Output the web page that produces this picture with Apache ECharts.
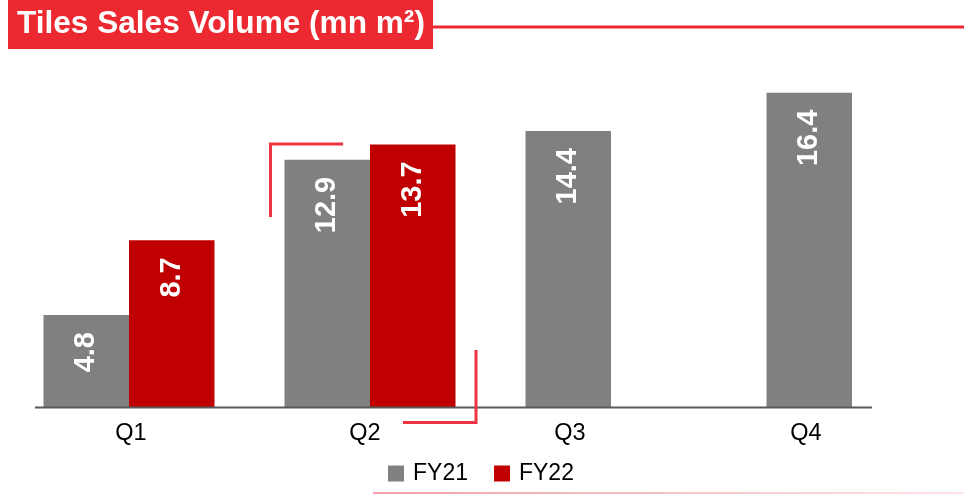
<!DOCTYPE html>
<html>
<head>
<meta charset="utf-8">
<script src="https://cdn.jsdelivr.net/npm/echarts@6/dist/echarts.min.js"></script>
<style>
  html, body { margin: 0; padding: 0; background: #ffffff; }
  #chart { width: 964px; height: 495px; }
</style>
</head>
<body>
<div id="chart"></div>
<script>
// Quarterly tiles sales volume, million square metres
const quarters = ['Q1', 'Q2', 'Q3', 'Q4'];
const fy21 = [4.8, 12.9, 14.4, 16.4];
const fy22 = [8.7, 13.7, null, null];
const seriesNames = ['FY21', 'FY22'];
const chartTitle = 'Tiles Sales Volume (mn m\u00B2)';

const FONT = '"Liberation Sans", Arial, sans-serif';
const RED = '#EC2830';
const GREY_BAR = '#808080';
const RED_BAR = '#C00000';

// horizontal nudge for each quarter label (px, positive = right)
const labelShift = [2, -5, -41, -46];
const rich = {};
labelShift.forEach((s, i) => {
  rich['q' + i] = {
    fontSize: 23.5,
    fontFamily: FONT,
    color: '#000000',
    padding: s >= 0 ? [0, 0, 0, 2 * s] : [0, -2 * s, 0, 0]
  };
});

const valueLabel = {
  show: true,
  position: 'insideTop',
  rotate: 90,
  align: 'right',
  verticalAlign: 'middle',
  distance: 17,
  color: '#ffffff',
  fontFamily: FONT,
  fontWeight: 'bold',
  fontSize: 29,
  formatter: p => p.value.toFixed(1)
};

const chart = echarts.init(document.getElementById('chart'), null, { renderer: 'canvas' });

chart.setOption({
  animation: false,
  backgroundColor: '#ffffff',
  grid: {
    left: 8.5, top: 62, width: 964, height: 345,
    containLabel: false,
    outerBoundsMode: 'none'
  },
  xAxis: {
    type: 'category',
    data: quarters,
    axisLine: { show: false },
    axisTick: { show: false },
    splitLine: { show: false },
    axisLabel: {
      margin: 15,
      formatter: (v, i) => '{q' + i + '|' + v + '}',
      rich: rich
    }
  },
  yAxis: {
    type: 'value',
    min: 0,
    max: 18,
    show: false,
    splitLine: { show: false }
  },
  legend: {
    data: seriesNames,
    left: 388,
    top: 462,
    padding: 0,
    icon: 'rect',
    itemWidth: 16,
    itemHeight: 16,
    itemGap: 26,
    textStyle: {
      fontFamily: FONT,
      fontSize: 23,
      color: '#000000',
      padding: [0, 0, 0, 4]
    }
  },
  series: [
    {
      name: seriesNames[0],
      type: 'bar',
      data: fy21,
      barWidth: 85.5,
      barGap: '0%',
      itemStyle: { color: GREY_BAR },
      label: valueLabel
    },
    {
      name: seriesNames[1],
      type: 'bar',
      data: fy22,
      barWidth: 85.5,
      barGap: '0%',
      itemStyle: { color: RED_BAR },
      label: valueLabel
    }
  ],
  graphic: [
    // title banner
    { type: 'rect', shape: { x: 8, y: 0, width: 425, height: 49 }, style: { fill: RED }, z: 10 },
    {
      type: 'text', x: 17, y: 24.5, z: 11,
      style: {
        text: chartTitle,
        fill: '#ffffff',
        font: 'bold 31.6px ' + FONT,
        verticalAlign: 'middle',
        align: 'left'
      }
    },
    { type: 'line', shape: { x1: 433, y1: 27, x2: 964, y2: 27 }, style: { stroke: RED, lineWidth: 3 }, z: 10 },
    // baseline of the bars
    { type: 'line', shape: { x1: 35, y1: 407.5, x2: 872, y2: 407.5 }, style: { stroke: '#595959', lineWidth: 2 }, z: 5 },
    // corner brackets framing Q2
    { type: 'polyline', shape: { points: [[270.5, 217], [270.5, 144], [343, 144]] }, style: { stroke: '#EE3340', lineWidth: 3, fill: null }, z: 6 },
    { type: 'polyline', shape: { points: [[403, 422.5], [476, 422.5], [476, 350]] }, style: { stroke: '#EE3340', lineWidth: 3, fill: null }, z: 6 },
    // footer rule
    {
      type: 'rect', shape: { x: 373, y: 492, width: 591, height: 2 }, z: 5,
      style: {
        fill: new echarts.graphic.LinearGradient(0, 0, 1, 0, [
          { offset: 0, color: '#F2A2A6' },
          { offset: 1, color: '#FCE4E5' }
        ])
      }
    }
  ]
});
</script>
</body>
</html>
